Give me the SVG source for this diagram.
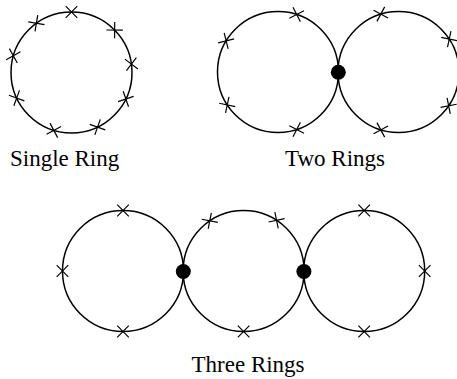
<svg xmlns="http://www.w3.org/2000/svg" xmlns:xlink="http://www.w3.org/1999/xlink" width="457" height="379" viewBox="0 0 457 379">
<style>
.ring{fill:none;stroke:#000;stroke-width:1.5}
.mk{fill:none;stroke:#000;stroke-width:1.2}
.dot{fill:#000}
.lbl{font-family:"Liberation Serif","Times New Roman",serif;font-size:23px;fill:#000}
</style>
<defs>
<path id="x" class="mk" d="M-5.8,-5.8L5.8,5.8M-5.8,5.8L5.8,-5.8"/>
</defs>
<rect width="457" height="379" fill="#fff"/>
<g id="single-ring">
<circle class="ring" cx="71.5" cy="72.5" r="60.5"/>
<use href="#x" transform="translate(71.5,72.5) rotate(-90) translate(60.5,0)"/>
<use href="#x" transform="translate(71.5,72.5) rotate(-125.5) translate(60.5,0)"/>
<use href="#x" transform="translate(71.5,72.5) rotate(-44.5) translate(60.5,0)"/>
<use href="#x" transform="translate(71.5,72.5) rotate(-8) translate(60.5,0)"/>
<use href="#x" transform="translate(71.5,72.5) rotate(26) translate(60.5,0)"/>
<use href="#x" transform="translate(71.5,72.5) rotate(64.5) translate(60.5,0)"/>
<use href="#x" transform="translate(71.5,72.5) rotate(107) translate(60.5,0)"/>
<use href="#x" transform="translate(71.5,72.5) rotate(155) translate(60.5,0)"/>
<use href="#x" transform="translate(71.5,72.5) rotate(196) translate(60.5,0)"/>
<text class="lbl" x="10" y="166">Single Ring</text>
</g>
<g id="two-rings">
<circle class="ring" cx="278" cy="72" r="60.5"/>
<circle class="ring" cx="398.5" cy="72" r="60.5"/>
<use href="#x" transform="translate(278,72) rotate(-72) translate(60.5,0)"/>
<use href="#x" transform="translate(278,72) rotate(-149) translate(60.5,0)"/>
<use href="#x" transform="translate(278,72) rotate(147) translate(60.5,0)"/>
<use href="#x" transform="translate(278,72) rotate(72) translate(60.5,0)"/>
<use href="#x" transform="translate(398.5,72) rotate(-107) translate(60.5,0)"/>
<use href="#x" transform="translate(398.5,72) rotate(-33) translate(60.5,0)"/>
<use href="#x" transform="translate(398.5,72) rotate(34) translate(60.5,0)"/>
<use href="#x" transform="translate(398.5,72) rotate(107) translate(60.5,0)"/>
<circle class="dot" cx="338.3" cy="72.3" r="7.5"/>
<text class="lbl" x="285" y="166">Two Rings</text>
</g>
<g id="three-rings">
<circle class="ring" cx="123" cy="271" r="60.5"/>
<circle class="ring" cx="243.6" cy="271" r="60.5"/>
<circle class="ring" cx="364.2" cy="271" r="60.5"/>
<use href="#x" transform="translate(123,271) rotate(-90) translate(60.5,0)"/>
<use href="#x" transform="translate(123,271) rotate(180) translate(60.5,0)"/>
<use href="#x" transform="translate(123,271) rotate(90) translate(60.5,0)"/>
<use href="#x" transform="translate(243.6,271) rotate(-124) translate(60.5,0)"/>
<use href="#x" transform="translate(243.6,271) rotate(-57) translate(60.5,0)"/>
<use href="#x" transform="translate(243.6,271) rotate(90) translate(60.5,0)"/>
<use href="#x" transform="translate(364.2,271) rotate(-90) translate(60.5,0)"/>
<use href="#x" transform="translate(364.2,271) rotate(0) translate(60.5,0)"/>
<use href="#x" transform="translate(364.2,271) rotate(90) translate(60.5,0)"/>
<circle class="dot" cx="183.3" cy="271.5" r="7.5"/>
<circle class="dot" cx="303.9" cy="271.5" r="7.5"/>
<text class="lbl" x="191.5" y="372">Three Rings</text>
</g>
</svg>
